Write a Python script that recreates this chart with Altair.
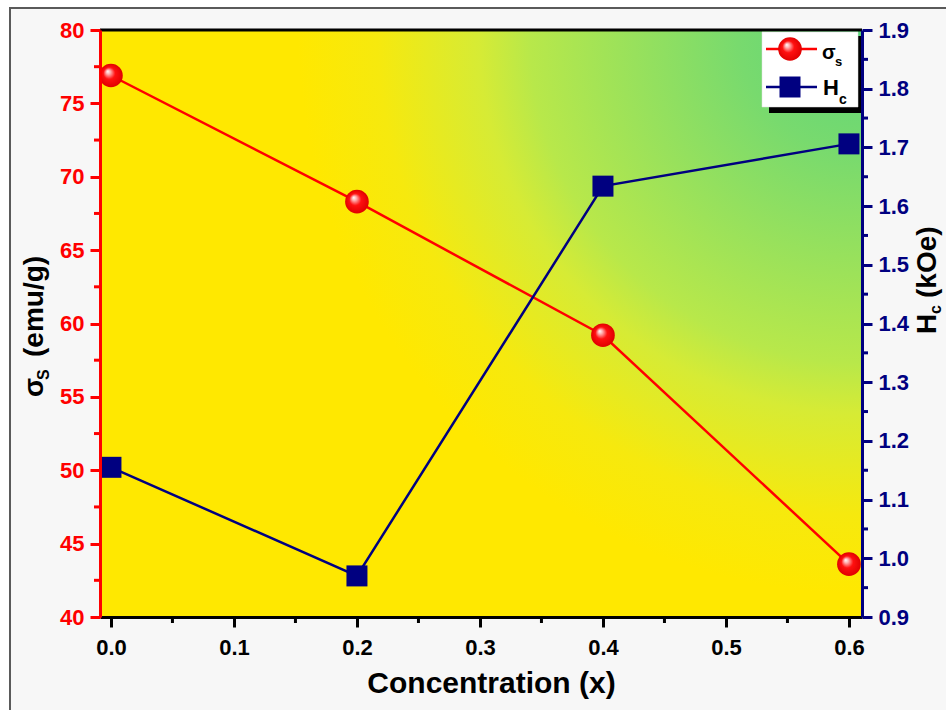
import altair as alt
import pandas as pd

# ---------------- data ----------------
conc = [0.0, 0.2, 0.4, 0.6]
sigma_s = [76.9, 68.3, 59.2, 43.6]
hc = [1.155, 0.970, 1.634, 1.706]

x_major = [0.0, 0.1, 0.2, 0.3, 0.4, 0.5, 0.6]
x_minor = [0.05, 0.15, 0.25, 0.35, 0.45, 0.55]
left_major = [40, 45, 50, 55, 60, 65, 70, 75, 80]
left_minor = [42.5, 47.5, 52.5, 57.5, 62.5, 67.5, 72.5, 77.5]
right_major = [0.9, 1.0, 1.1, 1.2, 1.3, 1.4, 1.5, 1.6, 1.7, 1.8, 1.9]
right_minor = [0.95, 1.05, 1.15, 1.25, 1.35, 1.45, 1.55, 1.65, 1.75, 1.85]

# ---------------- layout / style ----------------
W, H = 762, 587
FONT = "Liberation Sans"
RED = "#FF0000"
NAVY = "#000080"

df = pd.DataFrame({"conc": conc, "sigma": sigma_s, "hc": hc})
one = pd.DataFrame({"a": [0]})

xscale = alt.Scale(domain=[-0.0089, 0.6106], nice=False, zero=False)
lscale = alt.Scale(domain=[40, 80], nice=False, zero=False)
rscale = alt.Scale(domain=[0.9, 1.9], nice=False, zero=False)

xaxis = alt.Axis(values=x_major, format=".1f", title="Concentration (x)",
                 grid=False, domainColor="black", domainWidth=3,
                 tickColor="black", tickWidth=3, tickSize=10,
                 labelFont=FONT, labelFontSize=22, labelFontWeight="bold",
                 labelColor="black", labelPadding=10, labelFlush=False,
                 titleFont=FONT, titleFontSize=30, titleFontWeight="bold",
                 titleColor="black", titlePadding=10, titleX=391, zindex=1)
laxis = alt.Axis(values=left_major, format="d", title=None, orient="left",
                 grid=False, domainColor=RED, domainWidth=3,
                 tickColor=RED, tickWidth=3, tickSize=10,
                 labelFont=FONT, labelFontSize=22, labelFontWeight="bold",
                 labelColor=RED, labelPadding=6, labelFlush=False, zindex=1)
raxis = alt.Axis(values=right_major, format=".1f", title=None, orient="right",
                 grid=False, domainColor=NAVY, domainWidth=3,
                 tickColor=NAVY, tickWidth=3, tickSize=10,
                 labelFont=FONT, labelFontSize=22, labelFontWeight="bold",
                 labelColor=NAVY, labelPadding=6, labelFlush=False, zindex=1)

X = alt.X("conc:Q", scale=xscale, axis=xaxis)

# background gradient (radial, green at top-right corner)
bg_grad = alt.RadialGradient(
    gradient="radial", x1=1, y1=0.1148, x2=1, y2=0.1148, r1=0, r2=0.74,
    stops=[alt.GradientStop(color="#5CD57B", offset=0.0),
           alt.GradientStop(color="#78DA6E", offset=0.22),
           alt.GradientStop(color="#B8E84A", offset=0.59),
           alt.GradientStop(color="#D6EB35", offset=0.68),
           alt.GradientStop(color="#F6E90E", offset=0.86),
           alt.GradientStop(color="#FFE800", offset=1.0)])

sphere = alt.RadialGradient(
    gradient="radial", x1=0.36, y1=0.32, x2=0.5, y2=0.5, r1=0, r2=0.5,
    stops=[alt.GradientStop(color="#FFFFFF", offset=0.0),
           alt.GradientStop(color="#FFB4B4", offset=0.18),
           alt.GradientStop(color="#FF1010", offset=0.5),
           alt.GradientStop(color="#E00000", offset=1.0)])

frame = alt.Chart(one).mark_rect(fill="#F7F7F7", stroke="#5A5A5A", strokeWidth=2).encode(
    x=alt.value(-90), x2=alt.value(900), y=alt.value(-22), y2=alt.value(720))
bg = alt.Chart(one).mark_rect(fill=bg_grad).encode(
    x=alt.value(0), x2=alt.value(W), y=alt.value(0), y2=alt.value(H))
top_border = alt.Chart(one).mark_rule(color="black", strokeWidth=3).encode(
    x=alt.value(0), x2=alt.value(W), y=alt.value(0))

xminor = alt.Chart(pd.DataFrame({"conc": x_minor})).mark_rule(
    color="black", strokeWidth=3).encode(x=X, y=alt.value(H), y2=alt.value(H + 6))
lminor = alt.Chart(pd.DataFrame({"v": left_minor})).mark_rule(
    color=RED, strokeWidth=3).encode(
    y=alt.Y("v:Q", scale=lscale, axis=laxis), x=alt.value(0), x2=alt.value(-6))

Ys = alt.Y("sigma:Q", scale=lscale, axis=laxis)
sig_line = alt.Chart(df).mark_line(color=RED, strokeWidth=2.5).encode(x=X, y=Ys)
sig_pts = alt.Chart(df).mark_point(shape="circle", filled=True, fill=sphere,
                                   size=560, opacity=1, strokeWidth=0).encode(x=X, y=Ys)

def txt(s, x, y, size, color="black", angle=0):
    return alt.Chart(one).mark_text(
        text=s, font=FONT, fontSize=size, fontWeight="bold", color=color,
        align="left", baseline="alphabetic", angle=angle).encode(
        x=alt.value(x), y=alt.value(y))

# left axis title (rotated), with subscript
ltitle = alt.layer(
    txt("σ", -57, 367, 28, angle=270),
    txt("S", -51, 350, 16, angle=270),
    txt("(emu/g)", -57, 327, 28, angle=270),
)

A = alt.layer(frame, bg, top_border, xminor, lminor, sig_line, sig_pts, ltitle)

Yr = alt.Y("hc:Q", scale=rscale, axis=raxis)
hc_line = alt.Chart(df).mark_line(color=NAVY, strokeWidth=2.5).encode(x=X, y=Yr)
hc_pts = alt.Chart(df).mark_square(color=NAVY, size=441, opacity=1).encode(x=X, y=Yr)
rminor = alt.Chart(pd.DataFrame({"hc": right_minor})).mark_rule(
    color=NAVY, strokeWidth=3).encode(y=Yr, x=alt.value(W), x2=alt.value(W + 6))

B = alt.layer(rminor, hc_line, hc_pts)

# right title and legend
rtitle = alt.layer(
    txt("H", 836, 304, 28, angle=270),
    txt("c", 841, 284, 16, angle=270),
    txt("(kOe)", 836, 268, 28, angle=270),
)

shadow = alt.Chart(one).mark_rect(fill="black").encode(
    x=alt.value(669), x2=alt.value(W), y=alt.value(6), y2=alt.value(83))
box = alt.Chart(one).mark_rect(fill="white", stroke="#DDDDDD", strokeWidth=0.5).encode(
    x=alt.value(662), x2=alt.value(758), y=alt.value(2), y2=alt.value(77))
leg_l1 = alt.Chart(one).mark_rule(color=RED, strokeWidth=2.5).encode(
    x=alt.value(666), x2=alt.value(717), y=alt.value(19))
leg_p1 = alt.Chart(one).mark_point(shape="circle", filled=True, fill=sphere,
                                   size=560, opacity=1, strokeWidth=0).encode(
    x=alt.value(690), y=alt.value(19))
leg_l2 = alt.Chart(one).mark_rule(color=NAVY, strokeWidth=2.5).encode(
    x=alt.value(666), x2=alt.value(717), y=alt.value(57))
leg_p2 = alt.Chart(one).mark_square(color=NAVY, size=441, opacity=1).encode(
    x=alt.value(690), y=alt.value(57))

C = alt.layer(rtitle, shadow, box, leg_l1, leg_p1, leg_l2, leg_p2,
              txt("σ", 722, 29, 20), txt("s", 735, 36, 13),
              txt("H", 723, 65, 22), txt("c", 739, 74, 14))

chart = alt.layer(A, B, C).resolve_scale(y="independent").properties(
    width=W, height=H,
    padding={"left": 100, "top": 30, "right": 84, "bottom": 93},
    autosize=alt.AutoSizeParams(type="none"),
    background="white",
).configure_view(stroke=None)

chart.save("out.html", embed_options={"renderer": "svg", "actions": False})
